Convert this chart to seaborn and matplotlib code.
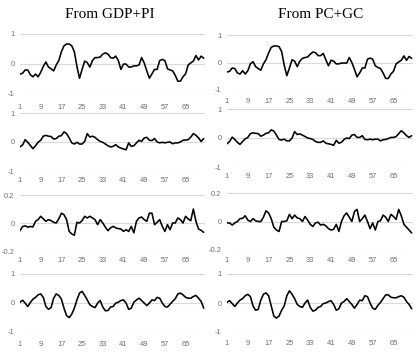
import numpy as np
import pandas as pd
import matplotlib
matplotlib.use("Agg")
import matplotlib.pyplot as plt
import seaborn as sns

sns.set_theme(style="white")
plt.rcParams['font.family'] = ['Liberation Sans', 'DejaVu Sans']

periods = list(range(1, 73))
xtick_labels = [1, 9, 17, 25, 33, 41, 49, 57, 65]
titles = ["From GDP+PI", "From PC+GC"]

gdp_pi_1 = [-0.36, -0.33, -0.22, -0.22, -0.38, -0.45, -0.36, -0.45, -0.3, -0.1, 0.05, -0.12,
            -0.18, -0.25, -0.05, 0.1, 0.4, 0.6, 0.66, 0.66, 0.6, 0.4, -0.1, -0.5,
            -0.2, 0.08, 0.03, -0.12, 0.1, 0.2, 0.2, 0.22, 0.32, 0.36, 0.32, 0.2,
            0.18, 0.25, 0.1, -0.2, -0.02, -0.02, -0.12, -0.12, -0.08, -0.08, -0.05, 0.2,
            0.02, -0.25, -0.5, -0.35, -0.2, -0.2, 0.1, 0.14, 0.1, -0.18, -0.22, -0.25,
            -0.4, -0.6, -0.6, -0.45, -0.35, -0.05, 0.02, 0.08, 0.27, 0.12, 0.25, 0.18]
pc_gc_1 = [-0.35, -0.32, -0.2, -0.22, -0.38, -0.42, -0.3, -0.42, -0.3, -0.05, 0.03, -0.15,
           -0.22, -0.28, -0.05, 0.1, 0.35, 0.55, 0.6, 0.6, 0.58, 0.4, -0.1, -0.48,
           -0.2, 0.1, 0.05, -0.15, 0.05, 0.15, 0.18, 0.2, 0.3, 0.38, 0.36, 0.25,
           0.25, 0.33, 0.1, -0.12, 0.08, 0.05, -0.05, -0.05, -0.02, -0.02, -0.02, 0.18,
           0.0, -0.25, -0.52, -0.38, -0.2, -0.2, 0.12, 0.16, 0.12, -0.12, -0.18, -0.22,
           -0.38, -0.58, -0.58, -0.42, -0.32, -0.05, 0.02, 0.08, 0.24, 0.08, 0.22, 0.15]

gdp_pi_2 = [-0.17, -0.1, 0.08, -0.01, -0.12, -0.23, -0.13, -0.01, 0.06, 0.2, 0.23, 0.2,
            0.19, 0.1, 0.12, 0.2, 0.22, 0.35, 0.29, 0.14, -0.03, -0.07, -0.01, -0.07,
            -0.07, 0.02, 0.29, 0.17, 0.2, 0.16, 0.08, 0.02, -0.01, -0.07, -0.13, -0.17,
            -0.15, -0.09, -0.17, -0.21, -0.24, -0.27, -0.03, -0.15, -0.13, -0.03, 0.06, 0.02,
            0.14, 0.16, 0.06, 0.05, 0.12, 0.0, -0.03, -0.01, -0.03, -0.01, 0.0, -0.06,
            -0.03, -0.03, 0.0, 0.06, 0.07, 0.08, 0.17, 0.29, 0.23, 0.14, 0.02, 0.12]
pc_gc_2 = [-0.2, -0.12, 0.03, -0.05, -0.15, -0.22, -0.12, -0.03, 0.02, 0.15, 0.18, 0.16,
           0.15, 0.06, 0.1, 0.16, 0.18, 0.28, 0.24, 0.1, -0.05, -0.07, -0.04, -0.1,
           -0.1, 0.0, 0.22, 0.12, 0.14, 0.1, 0.05, 0.0, -0.02, -0.05, -0.12, -0.15,
           -0.15, -0.1, -0.18, -0.2, -0.22, -0.25, -0.08, -0.18, -0.15, -0.05, 0.0, -0.02,
           0.1, 0.12, 0.02, 0.02, 0.08, -0.05, -0.06, -0.04, -0.06, -0.04, -0.04, -0.1,
           -0.06, -0.05, -0.02, 0.02, 0.02, 0.05, 0.15, 0.25, 0.18, 0.08, 0.02, 0.08]

gdp_pi_3 = [-0.055, -0.025, -0.02, -0.03, -0.025, -0.028, 0.012, 0.024, 0.048, 0.03, 0.012, 0.024,
            0.017, 0.005, 0.0, 0.03, 0.07, 0.06, 0.024, -0.06, -0.078, -0.088, 0.005, 0.0,
            0.017, 0.048, 0.036, 0.048, 0.036, 0.024, -0.012, 0.024, 0.0, -0.03, -0.055, -0.035,
            -0.024, -0.035, -0.04, -0.043, -0.06, -0.048, -0.06, -0.024, -0.07, 0.012, 0.036, 0.043,
            0.024, 0.012, 0.07, 0.07, -0.012, 0.005, 0.024, -0.024, -0.06, -0.012, -0.048, 0.0,
            0.0, 0.036, 0.024, 0.0, 0.048, 0.029, 0.017, 0.1, 0.012, -0.043, -0.052, -0.067]
pc_gc_3 = [-0.01, -0.01, -0.025, -0.01, 0.0, 0.02, 0.022, 0.04, 0.01, 0.0, 0.02, 0.005,
           0.0, 0.0, 0.03, 0.075, 0.06, 0.02, -0.04, -0.06, -0.07, 0.0, 0.0, 0.005,
           0.05, 0.02, 0.045, 0.025, 0.02, 0.0, 0.035, 0.01, -0.02, -0.035, -0.01, -0.005,
           -0.025, -0.02, -0.03, -0.05, -0.06, -0.055, -0.02, -0.07, 0.0, 0.04, 0.06, 0.03,
           0.0, 0.07, 0.085, 0.0, 0.02, 0.045, 0.0, -0.05, -0.01, -0.06, 0.0, 0.005,
           0.045, 0.03, 0.0, 0.05, 0.035, 0.015, 0.085, 0.04, -0.02, -0.04, -0.06, -0.08]

gdp_pi_4 = [0.01, 0.08, -0.02, -0.14, 0.0, 0.12, 0.18, 0.27, 0.3, 0.18, -0.14, -0.24,
            -0.18, 0.15, 0.3, 0.25, 0.12, -0.2, -0.46, -0.53, -0.41, -0.2, 0.09, 0.33,
            0.39, 0.25, 0.09, -0.08, -0.14, -0.18, -0.02, 0.07, -0.16, -0.29, -0.28, -0.16,
            -0.14, -0.02, 0.01, 0.07, 0.09, -0.02, -0.24, -0.2, 0.01, 0.09, 0.15, 0.07,
            -0.02, -0.11, -0.02, 0.09, 0.07, 0.18, 0.15, -0.02, -0.14, -0.16, -0.06, 0.04,
            0.13, 0.3, 0.33, 0.27, 0.18, 0.15, 0.15, 0.21, 0.25, 0.15, 0.04, -0.2]
pc_gc_4 = [0.02, 0.08, -0.02, -0.12, 0.0, 0.1, 0.15, 0.25, 0.3, 0.22, -0.1, -0.25,
           -0.22, 0.1, 0.3, 0.35, 0.25, -0.1, -0.45, -0.52, -0.45, -0.25, -0.1, 0.25,
           0.42, 0.3, 0.15, -0.05, -0.12, -0.15, 0.0, 0.1, -0.15, -0.28, -0.25, -0.15,
           -0.12, -0.02, 0.0, 0.05, 0.08, -0.05, -0.25, -0.2, 0.0, 0.05, 0.15, 0.05,
           -0.05, -0.18, -0.05, 0.1, 0.08, 0.25, 0.22, 0.0, -0.18, -0.22, -0.08, 0.02,
           0.15, 0.28, 0.28, 0.2, 0.18, 0.18, 0.22, 0.25, 0.2, 0.05, -0.05, -0.2]

ylims = [(-1, 1), (-1, 1), (-0.2, 0.2), (-1, 1)]
yticks = [[-1, 0, 1], [-1, 0, 1], [-0.2, 0, 0.2], [-1, 0, 1]]
yticklabels = [["-1", "0", "1"], ["-1", "0", "1"], ["-0.2", "0", "0.2"], ["-1", "0", "1"]]

series = [[gdp_pi_1, pc_gc_1], [gdp_pi_2, pc_gc_2], [gdp_pi_3, pc_gc_3], [gdp_pi_4, pc_gc_4]]

W, H = 418, 353
fig = plt.figure(figsize=(W / 100, H / 100), dpi=100)
fig.patch.set_facecolor("white")

# pixel boxes (x0, x1, ytop, ybottom) per panel
col_x = [(20, 205), (227, 413)]
row_y = [[(34, 93), (35, 90)], [(113, 171), (109, 167)],
         [(195, 251), (193, 250)], [(274, 331), (274, 332)]]
label_off = [[11, 8], [6, 6], [6, 7], [10, 8]]

for r in range(4):
    for c in range(2):
        x0, x1 = col_x[c]
        yt, yb = row_y[r][c]
        ax = fig.add_axes([x0 / W, 1 - yb / H, (x1 - x0) / W, (yb - yt) / H])
        df = pd.DataFrame({"t": periods, "v": series[r][c]})
        sns.lineplot(data=df, x="t", y="v", ax=ax, color="black", linewidth=1.15)
        ax.set_xlim(1, 72.5)
        ax.set_ylim(*ylims[r])
        ax.set_yticks(yticks[r])
        ax.set_yticklabels(yticklabels[r])
        ax.set_xticks(xtick_labels)
        ax.set_xticklabels([str(v) for v in xtick_labels])
        ax.set_xlabel("")
        ax.set_ylabel("")
        for s in ax.spines.values():
            s.set_visible(False)
        ax.grid(axis="y", color="#d9d9d9", linewidth=0.8)
        ax.grid(axis="x", visible=False)
        ax.set_axisbelow(True)
        ax.tick_params(axis="both", length=0, labelsize=5.4, colors="#6e6e6e")
        ax.tick_params(axis="y", pad=4)
        ax.tick_params(axis="x", pad=label_off[r][c] * 0.72)
        ax.patch.set_alpha(0)

fig.text(110 / W, 1 - 15 / H, titles[0], ha="center", va="center",
         fontsize=11, family=["Liberation Serif", "DejaVu Serif"], color="black")
fig.text(321 / W, 1 - 15 / H, titles[1], ha="center", va="center",
         fontsize=11, family=["Liberation Serif", "DejaVu Serif"], color="black")

fig.savefig("out.png", dpi=100, facecolor="white")
